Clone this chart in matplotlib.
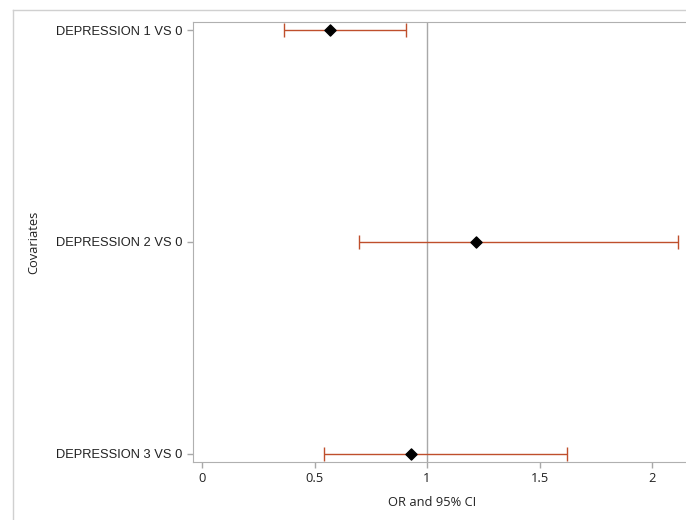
import matplotlib
matplotlib.use('Agg')
import matplotlib.pyplot as plt
from matplotlib.lines import Line2D

# data
covariates = ['DEPRESSION 1 VS 0', 'DEPRESSION 2 VS 0', 'DEPRESSION 3 VS 0']
odds_ratio = [0.569, 1.218, 0.929]
ci_lower = [0.364, 0.698, 0.542]
ci_upper = [0.907, 2.116, 1.622]
x_ticks = [0, 0.5, 1, 1.5, 2]
x_tick_labels = ['0', '0.5', '1', '1.5', '2']

fig = plt.figure(figsize=(6.86, 5.2), dpi=100)
ax = fig.add_axes([193 / 686, 1 - 462 / 520, (686 - 193) / 686, 440 / 520])

ypos = list(range(len(covariates)))
err_lo = [o - l for o, l in zip(odds_ratio, ci_lower)]
err_hi = [u - o for o, u in zip(odds_ratio, ci_upper)]

ax.axvline(1, color='#a8a8a8', lw=1, zorder=1)
ax.errorbar(odds_ratio, ypos, xerr=[err_lo, err_hi], fmt='none',
            ecolor='#bf4f2c', elinewidth=1.0, capsize=5, capthick=1.0, zorder=2)
ax.scatter(odds_ratio, ypos, marker='D', s=32, color='black', zorder=3)

ax.set_xlim(-0.04, 2.151)
ax.set_ylim(len(covariates) - 1 + 0.04, -0.04)
ax.set_yticks(ypos)
ax.set_yticklabels(covariates, fontsize=9.3, family='Liberation Sans', color='#222222')
ax.set_xticks(x_ticks)
ax.set_xticklabels(x_tick_labels, fontsize=9.3, family='Open Sans', color='#222222')
ax.tick_params(axis='both', colors='#a8a8a8', labelcolor='#222222', length=4, width=1)

for side in ['left', 'bottom', 'top']:
    ax.spines[side].set_color('#b0b0b0')
ax.spines['right'].set_visible(False)

ax.set_xlabel('OR and 95% CI', fontsize=9.3, family='Open Sans', color='#222222')
ax.xaxis.set_label_coords((432 - 193) / (686 - 193), -0.077)
ax.set_ylabel('Covariates', fontsize=9.3, family='Open Sans', color='#222222')
ax.yaxis.set_label_coords(-0.31, 0.5)

# outer frame of the graph area
fig.add_artist(Line2D([13 / 686, 13 / 686], [0, 1 - 10 / 520], color='#d0d0d0', lw=1))
fig.add_artist(Line2D([13 / 686, 1], [1 - 10 / 520, 1 - 10 / 520], color='#d0d0d0', lw=1))

fig.savefig('out.png', dpi=100)
